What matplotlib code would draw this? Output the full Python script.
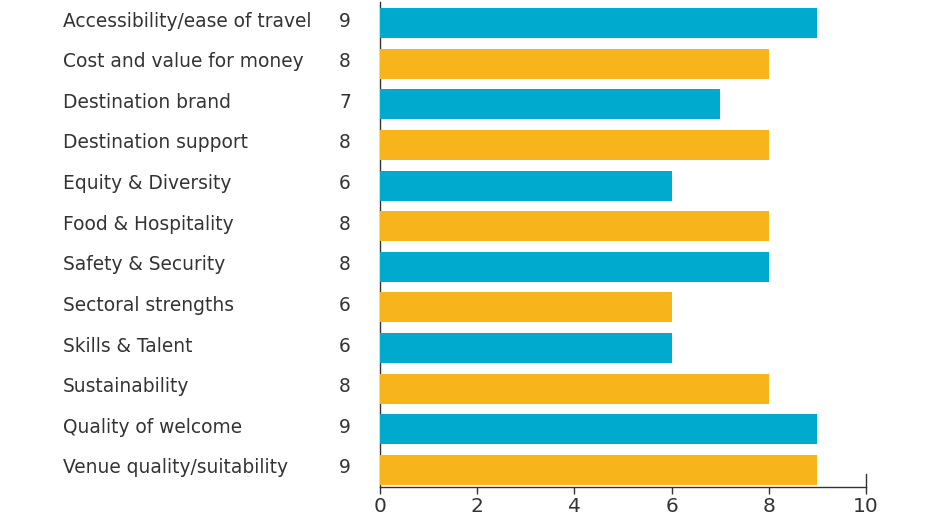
import matplotlib
matplotlib.use("Agg")
import matplotlib.pyplot as plt
import matplotlib.transforms as mtransforms

categories = [
    "Accessibility/ease of travel",
    "Cost and value for money",
    "Destination brand",
    "Destination support",
    "Equity & Diversity",
    "Food & Hospitality",
    "Safety & Security",
    "Sectoral strengths",
    "Skills & Talent",
    "Sustainability",
    "Quality of welcome",
    "Venue quality/suitability",
]
values = [9, 8, 7, 8, 6, 8, 8, 6, 6, 8, 9, 9]
x_ticks = [0, 2, 4, 6, 8, 10]

blue = "#00A9CE"
yellow = "#F8B51B"
text_color = "#333333"

plt.rcParams['font.family'] = ['DejaVu Sans']

fig = plt.figure(figsize=(9.4, 5.2), dpi=100)
ax = fig.add_axes([380/940, (520-487)/520, (866-380)/940, (487-2)/520])

ypos = list(range(len(categories)))
colors = [blue if i % 2 == 0 else yellow for i in ypos]
ax.barh(ypos, values, height=0.74, color=colors, zorder=3)

ax.set_xlim(0, 10)
ax.set_ylim(11.42, -0.52)
ax.set_xticks(x_ticks)
ax.set_xticklabels([str(t) for t in x_ticks], fontsize=14.5, color=text_color)
ax.set_yticks([])
ax.tick_params(axis='x', length=5, width=1, color=text_color, pad=2)

for s in ['top', 'right']:
    ax.spines[s].set_visible(False)
for s in ['left', 'bottom']:
    ax.spines[s].set_color(text_color)
    ax.spines[s].set_linewidth(1)
    ax.spines[s].set_zorder(1)

# small stub at the end of the axis
ax.plot([10, 10], [11.42, 11.1], color=text_color, lw=1, clip_on=False, zorder=1)

trans = mtransforms.blended_transform_factory(fig.transFigure, ax.transData)
for i, (c, v) in enumerate(zip(categories, values)):
    ax.text(63/940, i - 0.05, c, transform=trans, fontsize=13.4, color=text_color,
            ha='left', va='center')
    ax.text(345/940, i - 0.05, str(v), transform=trans, fontsize=13.4, color=text_color,
            ha='center', va='center')

fig.savefig("out.png", dpi=100)
